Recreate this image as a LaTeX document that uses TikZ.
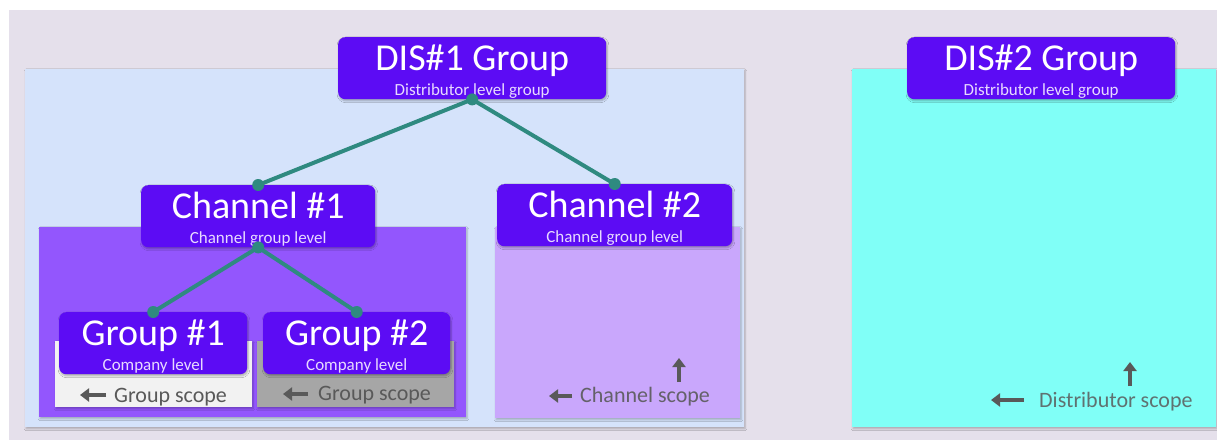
\documentclass[tikz,border=0pt]{standalone}
\usepackage{fontspec}
\setmainfont{Carlito}
\usetikzlibrary{shadows.blur,arrows.meta}
\definecolor{panelbg}{HTML}{E5E0EB}
\definecolor{disblue}{HTML}{D5E3FB}
\definecolor{chanpurple}{HTML}{9356FD}
\definecolor{chanlilac}{HTML}{C9A7FC}
\definecolor{discyan}{HTML}{80FFF7}
\definecolor{nodeviolet}{HTML}{5C0CF4}
\definecolor{subtext}{HTML}{E8DAFF}
\definecolor{linkteal}{HTML}{2F8A80}
\definecolor{scopegray}{HTML}{595959}
\definecolor{lightscope}{HTML}{F2F2F2}
\definecolor{darkscope}{HTML}{A6A6A6}
\tikzset{
  area/.style={draw=none, inner sep=0pt, anchor=north west,
    blur shadow={shadow xshift=0.8pt, shadow yshift=-1.6pt, shadow blur steps=5, shadow opacity=25}},
  levelbox/.style={fill=nodeviolet, rounded corners=7pt, inner sep=0pt, anchor=north west,
    minimum height=62pt,
    blur shadow={shadow xshift=0.8pt, shadow yshift=-1.6pt, shadow blur steps=5, shadow opacity=30}},
  titletext/.style={text=white, anchor=base, inner sep=0pt, font=\fontsize{38}{40}\selectfont},
  subtitle/.style={text=subtext, anchor=base, inner sep=0pt, font=\fontsize{17}{19}\selectfont},
  scopetext/.style={text=scopegray, anchor=base west, inner sep=0pt, font=\fontsize{22}{24}\selectfont},
  link/.style={draw=linkteal, line width=4pt},
  joint/.style={fill=linkteal},
  scopearrow/.style={draw=scopegray, line width=4.5pt, -{Triangle[length=9pt,width=13pt]}},
}
\begin{document}
\begin{tikzpicture}[x=1pt,y=-1pt]
\useasboundingbox (0,0) rectangle (1217,440);
\fill[white] (0,0) rectangle (1217,440);
\fill[panelbg] (9,10) rectangle (1217,440);

% scope areas
\node[area, fill=disblue, minimum width=719pt, minimum height=358pt] (dis1area) at (25,69) {};
\node[area, fill=discyan, minimum width=364pt, minimum height=358pt] (dis2area) at (852,69) {};
\node[area, fill=chanpurple, minimum width=427pt, minimum height=190pt] (ch1area) at (39,227) {};
\node[area, fill=chanlilac, minimum width=245pt, minimum height=191pt] (ch2area) at (495,227) {};
\node[area, fill=lightscope, minimum width=197pt, minimum height=66pt] (g1area) at (55,341) {};
\node[area, fill=darkscope, minimum width=197pt, minimum height=66pt] (g2area) at (257,341) {};

% level boxes
\node[levelbox, minimum width=268pt] (dis1) at (338,37) {};
\node[levelbox, minimum width=268pt] (dis2) at (907,37) {};
\node[levelbox, minimum width=234pt] (ch1) at (141,185) {};
\node[levelbox, minimum width=235pt] (ch2) at (497,184) {};
\node[levelbox, minimum width=188pt] (g1) at (59,312) {};
\node[levelbox, minimum width=187pt] (g2) at (263,312) {};

\foreach \n/\t/\s in {dis1/DIS\#1 Group/Distributor level group,
                      dis2/DIS\#2 Group/Distributor level group,
                      ch1/Channel \#1/Channel group level,
                      ch2/Channel \#2/Channel group level,
                      g1/Group \#1/Company level,
                      g2/Group \#2/Company level}{
  \node[titletext] (\n-title) at ([yshift=-33.5pt]\n.north) {\t};
  \node[subtitle] (\n-sub) at ([yshift=-58pt]\n.north) {\s};
}

% hierarchy links
\draw[link] (dis1.south) -- (ch1.north);
\draw[link] (dis1.south) -- (ch2.north);
\draw[link] (ch1.south) -- (g1.north);
\draw[link] (ch1.south) -- (g2.north);
\foreach \p in {dis1.south, ch1.north, ch2.north, ch1.south, g1.north, g2.north}
  \fill[joint] (\p) circle (6pt);

% scope labels
\node[scopetext] (g1scope) at (114,402) {Group scope};
\node[scopetext] (g2scope) at (318,400) {Group scope};
\node[scopetext, text=scopegray!90!chanlilac] (ch2scope) at (580,402) {Channel scope};
\node[scopetext, text=scopegray!85!discyan] (disscope) at (1039,407) {Distributor scope};

\coordinate (g1a) at (106,395);   \coordinate (g1b) at (80,395);
\coordinate (g2a) at (308,394);   \coordinate (g2b) at (283,394);
\coordinate (c2a) at (572,396);   \coordinate (c2b) at (549,396);
\coordinate (c2u) at (679,382);   \coordinate (c2v) at (679,358);
\coordinate (d2a) at (1024,400);  \coordinate (d2b) at (991,400);
\coordinate (d2u) at (1130,386);  \coordinate (d2v) at (1130,362);
\draw[scopearrow] (g1a) -- (g1b);
\draw[scopearrow] (g2a) -- (g2b);
\draw[scopearrow] (c2a) -- (c2b);
\draw[scopearrow] (c2u) -- (c2v);
\draw[scopearrow] (d2a) -- (d2b);
\draw[scopearrow] (d2u) -- (d2v);
\end{tikzpicture}
\end{document}
